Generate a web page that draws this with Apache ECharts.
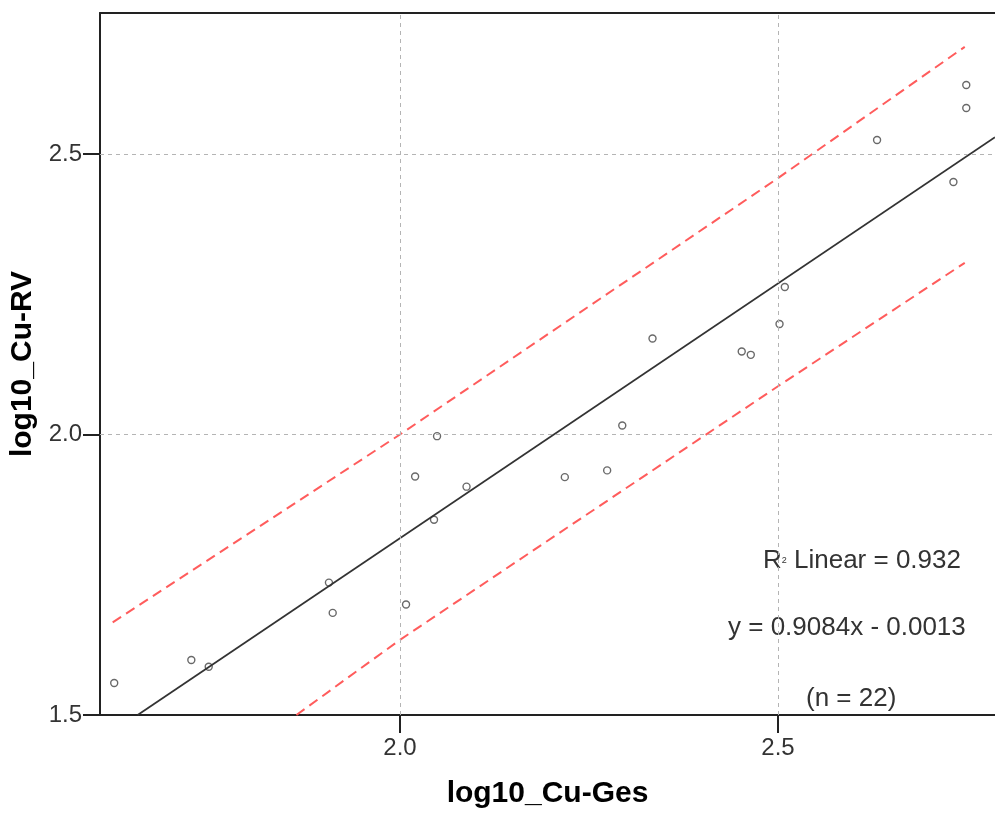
<!DOCTYPE html>
<html>
<head>
    <meta charset="utf-8">
    <title>log10_Cu-RV vs log10_Cu-Ges</title>
    <script src="https://cdn.jsdelivr.net/npm/echarts/dist/echarts.min.js"></script>
    <style>
        html, body { margin: 0; padding: 0; background: #fff; overflow: hidden; }
        #chart { width: 995px; height: 814px; }
    </style>
</head>
<body>
    <div id="chart"></div>
    <script>
        // Messpunkte
        var xVals = [1.622, 1.724, 1.747, 1.906, 1.911, 2.008, 2.020, 2.045, 2.049, 2.088, 2.218,
                     2.274, 2.294, 2.334, 2.452, 2.464, 2.502, 2.509, 2.631, 2.732, 2.749, 2.749];
        var yVals = [1.557, 1.598, 1.586, 1.736, 1.682, 1.697, 1.925, 1.848, 1.997, 1.907, 1.924,
                     1.936, 2.016, 2.171, 2.148, 2.142, 2.197, 2.263, 2.525, 2.450, 2.623, 2.582];

        // Regressionsgerade
        var fitX = [1.653, 2.787];
        var fitY = [1.500, 2.530];

        // Vorhersageintervall
        var upperX = [1.620, 2.000, 2.500, 2.747];
        var upperY = [1.665, 2.000, 2.457, 2.691];
        var lowerX = [1.863, 2.000, 2.500, 2.747];
        var lowerY = [1.500, 1.634, 2.086, 2.306];

        var xTicks = [2.0, 2.5];
        var yTicks = [1.5, 2.0, 2.5];

        var statLines = ['Linear = 0.932', 'y = 0.9084x - 0.0013', '(n = 22)'];

        function pairs(xs, ys) {
            return xs.map(function (x, i) { return [x, ys[i]]; });
        }

        var chart = echarts.init(document.getElementById('chart'));
        var font = 'Liberation Sans, Arial, sans-serif';
        var xMin = 1.6032, xMax = 2.787;

        var option = {
            animation: false,
            grid: {
                left: 100, top: 13, right: 0, bottom: 99,
                outerBoundsMode: 'none'
            },
            xAxis: [{
                type: 'value',
                min: xMin, max: xMax,
                name: 'log10_Cu-Ges',
                nameLocation: 'middle',
                nameGap: 64,
                nameTextStyle: { fontSize: 30, fontWeight: 'bold', color: '#000', fontFamily: font },
                axisLine: { lineStyle: { color: '#222', width: 2 } },
                axisTick: { customValues: xTicks, length: 18, lineStyle: { color: '#222', width: 2 } },
                axisLabel: {
                    customValues: xTicks, margin: 21, fontSize: 24, color: '#333', fontFamily: font,
                    formatter: function (v) { return v.toFixed(1); }
                },
                splitLine: { show: false }
            }, {
                // obere Rahmenlinie
                type: 'value',
                position: 'top',
                min: xMin, max: xMax,
                axisLine: { show: true, onZero: false, lineStyle: { color: '#222', width: 2 } },
                axisTick: { show: false },
                axisLabel: { show: false },
                splitLine: { show: false }
            }],
            yAxis: {
                type: 'value',
                min: 1.5, max: 2.7513,
                name: 'log10_Cu-RV',
                nameLocation: 'middle',
                nameGap: 60,
                nameTextStyle: { fontSize: 30, fontWeight: 'bold', color: '#000', fontFamily: font },
                axisLine: { lineStyle: { color: '#222', width: 2 } },
                axisTick: { customValues: yTicks, length: 17, lineStyle: { color: '#222', width: 2 } },
                axisLabel: {
                    customValues: yTicks, margin: 18, fontSize: 24, color: '#333', fontFamily: font,
                    formatter: function (v) { return v.toFixed(1); }
                },
                splitLine: { show: false }
            },
            series: [
                {
                    // Hilfslinien
                    type: 'line',
                    data: [],
                    silent: true,
                    markLine: {
                        silent: true,
                        symbol: 'none',
                        label: { show: false },
                        lineStyle: { color: '#b4b4b4', type: [4, 4], width: 1 },
                        data: [{ xAxis: 2.0 }, { xAxis: 2.5 }, { yAxis: 2.0 }, { yAxis: 2.5 }]
                    }
                },
                {
                    type: 'line',
                    data: pairs(upperX, upperY),
                    symbol: 'none',
                    silent: true,
                    lineStyle: { color: '#ff5c5c', width: 2, type: [10, 6] }
                },
                {
                    type: 'line',
                    data: pairs(lowerX, lowerY),
                    symbol: 'none',
                    silent: true,
                    lineStyle: { color: '#ff5c5c', width: 2, type: [10, 6] }
                },
                {
                    type: 'line',
                    data: pairs(fitX, fitY),
                    symbol: 'none',
                    silent: true,
                    lineStyle: { color: '#333', width: 1.8 }
                },
                {
                    type: 'scatter',
                    data: pairs(xVals, yVals),
                    symbol: 'circle',
                    symbolSize: 7,
                    itemStyle: { color: '#fff', borderColor: '#444', borderWidth: 1.4 }
                }
            ],
            graphic: [
                {
                    type: 'text', left: 763, top: 548,
                    style: {
                        text: '{a|R}{s|2}{a| ' + statLines[0] + '}',
                        rich: {
                            a: { fontSize: 26, fill: '#333', fontFamily: font, verticalAlign: 'middle' },
                            s: { fontSize: 9, fill: '#333', fontFamily: font, verticalAlign: 'middle' }
                        }
                    }
                },
                {
                    type: 'text', left: 728, top: 615,
                    style: { text: statLines[1], fontSize: 26, fill: '#333', fontFamily: font }
                },
                {
                    type: 'text', left: 806, top: 686,
                    style: { text: statLines[2], fontSize: 26, fill: '#333', fontFamily: font }
                }
            ]
        };

        chart.setOption(option);
    </script>
</body>
</html>
